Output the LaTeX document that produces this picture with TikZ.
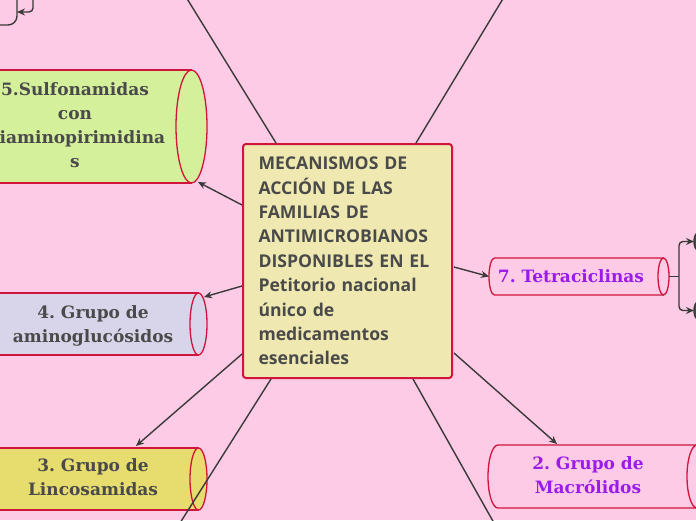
\documentclass[tikz,border=0pt]{standalone}
\usepackage{fontspec}
\setmainfont{Open Sans}
\newfontfamily\slab{DejaVu Serif}
\usetikzlibrary{arrows.meta,calc}
\definecolor{bgpink}{HTML}{FDCBE5}
\definecolor{crim}{HTML}{D0143C}
\definecolor{mainfill}{HTML}{EFE9B1}
\definecolor{greenf}{HTML}{D4F09B}
\definecolor{lavf}{HTML}{D8D4E9}
\definecolor{yelf}{HTML}{E7DC6E}
\definecolor{dtext}{HTML}{4A4A4A}
\definecolor{purp}{HTML}{9B1BEA}
\definecolor{conn}{HTML}{3A3A3A}
\frenchspacing
\tikzset{
  x=1pt, y=-1pt,
  line/.style={draw=conn, line width=1.4pt},
  arr/.style={line, -{Stealth[length=8pt,width=7pt]}},
  cyl/.style={draw=crim, line width=1.3pt},
  slabtxt/.style={font=\slab\bfseries\fontsize{17}{23.8}\selectfont, text=dtext, align=center, inner sep=0pt},
  purptxt/.style={font=\slab\bfseries\fontsize{17}{23.8}\selectfont, text=purp, align=center, inner sep=0pt},
  mainbox/.style={draw=crim, line width=2pt, fill=mainfill, rounded corners=3pt,
    minimum width=209pt, minimum height=234pt, text width=178pt, align=left, inner sep=0pt,
    text=dtext, font=\bfseries\fontsize{17.6}{24.4}\selectfont},
  hidden/.style={inner sep=0pt, outer sep=0pt}
}
\begin{document}
\begin{tikzpicture}
\useasboundingbox (0,0) rectangle (696,520);
\fill[bgpink] (0,0) rectangle (696,520);
\clip (0,0) rectangle (696,520);

% cylinders: body then end ellipse
% 5. Sulfonamidas
\draw[cyl, fill=greenf] (191.5,70) -- (-40,70) -- (-40,183) -- (191.5,183);
\draw[cyl, fill=greenf] (191.5,126.5) ellipse [x radius=15.5, y radius=56.5];
\node[hidden, minimum width=248pt, minimum height=113pt] (sulf) at (-40+124,126.5) {};
% 4. aminoglucosidos
\draw[cyl, fill=lavf] (198.5,293) -- (-40,293) -- (-40,355) -- (198.5,355);
\draw[cyl, fill=lavf] (198.5,324) ellipse [x radius=8.5, y radius=31];
\node[hidden, minimum width=247pt, minimum height=62pt] (amino) at (-40+123.5,324) {};
% 3. Lincosamidas
\draw[cyl, fill=yelf] (198.5,448) -- (-40,448) -- (-40,510) -- (198.5,510);
\draw[cyl, fill=yelf] (198.5,479) ellipse [x radius=8.5, y radius=31];
\node[hidden, minimum width=247pt, minimum height=62pt] (linco) at (-40+123.5,479) {};
% 7. Tetraciclinas
\draw[cyl] (663.5,258) -- (494.5,258) arc[start angle=270, end angle=90, x radius=5.5, y radius=18.5] -- (663.5,295);
\draw[cyl] (663.5,276.5) ellipse [x radius=5.5, y radius=18.5];
\node[hidden, minimum width=180pt, minimum height=37pt] (tetra) at (579,276.5) {};
% 2. Macrolidos
\draw[cyl] (697,445) -- (498,445) arc[start angle=270, end angle=90, x radius=10, y radius=31.5] -- (697,508);
\draw[cyl] (697,476.5) ellipse [x radius=10, y radius=31.5];
\node[hidden, minimum width=219pt, minimum height=63pt] (macro) at (597.5,476.5) {};

% texts (base = last line baseline)
\node[slabtxt, anchor=base] (t5) at (75,167) {5.Sulfonamidas\\con\\Diaminopirimidina\\s};
\node[slabtxt, anchor=base] (t4) at (93,342) {4. Grupo de\\aminoglucósidos};
\node[slabtxt, anchor=base] (t3) at (93,495) {3. Grupo de\\Lincosamidas};
\node[purptxt, anchor=base] (t7) at (571,282) {7. Tetraciclinas};
\node[purptxt, anchor=base] (t2) at (588,493) {2. Grupo de\\Macrólidos};

% central node
\node[mainbox] (main) at (347.5,261) {MECANISMOS DE\\ACCIÓN DE LAS\\FAMILIAS DE\\ANTIMICROBIANOS\\DISPONIBLES EN EL\\Petitorio nacional\\único de\\medicamentos\\esenciales};

% partially visible nodes
\draw[line, fill=bgpink, rounded corners=9pt] (-60,-40) rectangle (17,25);
\node[hidden, minimum width=77pt, minimum height=65pt] (tl) at (-21.5,-7.5) {};
\draw[line, fill=dtext, rounded corners=14pt] (694,227) rectangle (780,256);
\node[hidden, minimum width=86pt, minimum height=29pt] (g1) at (737,241.5) {};
\draw[line, fill=dtext, rounded corners=14pt] (694,296) rectangle (780,325);
\node[hidden, minimum width=86pt, minimum height=29pt] (g2) at (737,310.5) {};

% off-page targets
\coordinate (offA) at (186,-3);
\coordinate (offB) at (504,-3);
\coordinate (offC) at (180,523);
\coordinate (offD) at (494,523);
\coordinate (topbr) at (33,-3);

% connectors from central node
\draw[line] ($(main.north west)+(34,0)$) -- (offA);
\draw[line] ($(main.north west)+(174,0)$) -- (offB);
\draw[line] ($(main.south west)+(29,0)$) -- (offC);
\draw[line] ($(main.south west)+(171,0)$) -- (offD);
\draw[arr] ($(main.north west)+(0,62)$) -- ($(sulf.south east)+(-10,-1)$);
\draw[arr] ($(main.north west)+(0,143)$) -- ($(amino.north east)+(-3,4)$);
\draw[arr] ($(main.south west)+(0,-25)$) -- ($(linco.north west)+(176,-2)$);
\draw[arr] ($(main.north east)+(1,124)$) -- (tetra.west);
\draw[arr] ($(main.south east)+(1,-26)$) -- ($(macro.north west)+(69,-1)$);

% tetraciclinas bracket
\draw[line] (tetra.east) -- (679,276.5) coordinate (br);
\draw[arr, rounded corners=4pt] (br) |- (g1.west);
\draw[arr, rounded corners=4pt] (br) |- (g2.west);

% top-left bracket
\draw[arr, rounded corners=4pt] (topbr) |- ($(tl.south east)+(0,-13)$);
\end{tikzpicture}
\end{document}
